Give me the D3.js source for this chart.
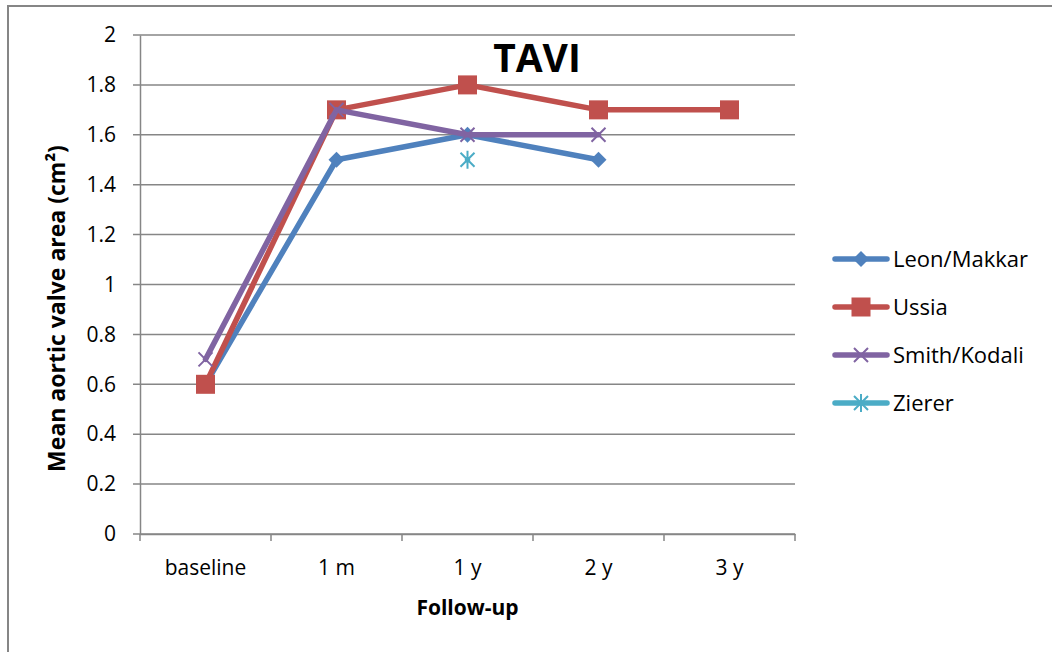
<!DOCTYPE html>
<html>
<head>
<meta charset="utf-8">
<script src="https://cdn.jsdelivr.net/npm/d3@7/dist/d3.min.js"></script>
<style>
  html, body { margin: 0; padding: 0; background: #fff; }
  svg { display: block; }
  text { font-family: "Open Sans", Lato, "DejaVu Sans", sans-serif; fill: #000; }
</style>
</head>
<body>
<svg id="chart" width="1052" height="652"></svg>
<script>
// Follow-up time points
const categories = ["baseline", "1 m", "1 y", "2 y", "3 y"];
// Mean aortic valve area (cm²) per study; null = not reported
const leonMakkar  = [0.6, 1.5, 1.6, 1.5, null];
const ussia       = [0.6, 1.7, 1.8, 1.7, 1.7];
const smithKodali = [0.7, 1.7, 1.6, 1.6, null];
const zierer      = [null, null, 1.5, null, null];
const seriesNames = ["Leon/Makkar", "Ussia", "Smith/Kodali", "Zierer"];
const yTicks = [0, 0.2, 0.4, 0.6, 0.8, 1, 1.2, 1.4, 1.6, 1.8, 2];

const series = [
  { name: seriesNames[0], values: leonMakkar,  color: "#4F81BD", marker: "diamond" },
  { name: seriesNames[1], values: ussia,       color: "#C0504D", marker: "square" },
  { name: seriesNames[2], values: smithKodali, color: "#8064A2", marker: "x" },
  { name: seriesNames[3], values: zierer,      color: "#4BACC6", marker: "star" }
];

const svg = d3.select("#chart");
const plot = { left: 140, right: 795, top: 35, bottom: 534 };
const FONT = "\"Open Sans\", Lato, sans-serif";

// chart area frame
svg.append("rect")
  .attr("x", 8).attr("y", 6).attr("width", 1060).attr("height", 660)
  .attr("fill", "none").attr("stroke", "#868686").attr("stroke-width", 2);

const x = d3.scaleBand().domain(categories).range([plot.left, plot.right]);
const y = d3.scaleLinear().domain([0, 2]).range([plot.bottom, plot.top]);

// horizontal gridlines
svg.append("g").selectAll("line").data(yTicks).join("line")
  .attr("x1", plot.left - 7).attr("x2", plot.right)
  .attr("y1", d => y(d)).attr("y2", d => y(d))
  .attr("stroke", "#868686").attr("stroke-width", 1.5);

// y axis
const yAxis = svg.append("g")
  .attr("transform", `translate(${plot.left},0)`)
  .call(d3.axisLeft(y).tickValues(yTicks).tickSize(0).tickPadding(24)
    .tickFormat(d => String(d)));
yAxis.select(".domain").attr("stroke", "#868686").attr("stroke-width", 1.5);
yAxis.selectAll("text").style("font-size", "21px").style("font-family", FONT);

// x axis
const xAxis = svg.append("g")
  .attr("transform", `translate(0,${plot.bottom})`)
  .call(d3.axisBottom(x).tickSize(0).tickPadding(26));
xAxis.select(".domain").attr("stroke", "#868686").attr("stroke-width", 1.5);
xAxis.selectAll("text").style("font-size", "21px").style("font-family", FONT);
// tick marks at category boundaries
const bounds = categories.map(c => x(c)).concat([x(categories[categories.length - 1]) + x.bandwidth()]);
xAxis.append("g").selectAll("line").data(bounds).join("line")
  .attr("x1", d => d).attr("x2", d => d).attr("y1", 0).attr("y2", 7)
  .attr("stroke", "#868686").attr("stroke-width", 1.5);

// axis titles
svg.append("text")
  .attr("transform", `translate(65,${(plot.top + plot.bottom) / 2 + 24}) rotate(-90)`)
  .attr("text-anchor", "middle")
  .style("font-size", "23px").style("font-weight", "bold")
  .text("Mean aortic valve area (cm²)");
svg.append("text")
  .attr("x", (plot.left + plot.right) / 2).attr("y", 615)
  .attr("text-anchor", "middle")
  .style("font-size", "21px").style("font-weight", "bold")
  .text("Follow-up");

// chart title
svg.append("text")
  .attr("x", 537).attr("y", 72)
  .attr("text-anchor", "middle")
  .style("font-size", "39px").style("font-weight", "bold")
  .text("TAVI");

// marker drawing
function drawMarker(g, type, color, cx, cy) {
  if (type === "diamond") {
    g.append("path")
      .attr("d", `M${cx},${cy - 8}L${cx + 8},${cy}L${cx},${cy + 8}L${cx - 8},${cy}Z`)
      .attr("fill", color);
  } else if (type === "square") {
    g.append("rect")
      .attr("x", cx - 9.5).attr("y", cy - 9.5).attr("width", 19).attr("height", 19)
      .attr("fill", color);
  } else if (type === "x") {
    g.append("path")
      .attr("d", `M${cx - 7},${cy - 7}L${cx + 7},${cy + 7}M${cx - 7},${cy + 7}L${cx + 7},${cy - 7}`)
      .attr("stroke", color).attr("stroke-width", 2).attr("fill", "none");
  } else if (type === "star") {
    g.append("path")
      .attr("d", `M${cx - 7},${cy - 7}L${cx + 7},${cy + 7}M${cx - 7},${cy + 7}L${cx + 7},${cy - 7}M${cx},${cy - 9}L${cx},${cy + 9}`)
      .attr("stroke", color).attr("stroke-width", 2).attr("fill", "none");
  }
}

const cx = c => x(c) + x.bandwidth() / 2;
const line = d3.line()
  .defined(d => d.v !== null)
  .x(d => cx(d.c)).y(d => y(d.v));

series.forEach(s => {
  const pts = categories.map((c, i) => ({ c, v: s.values[i] }));
  const g = svg.append("g");
  g.append("path").datum(pts)
    .attr("d", line)
    .attr("fill", "none").attr("stroke", s.color)
    .attr("stroke-width", 5.5).attr("stroke-linejoin", "round").attr("stroke-linecap", "round");
  pts.filter(p => p.v !== null).forEach(p => drawMarker(g, s.marker, s.color, cx(p.c), y(p.v)));
});

// legend
const legendY = [259, 307, 355, 403];
series.forEach((s, i) => {
  const g = svg.append("g");
  const ly = legendY[i];
  g.append("line").attr("x1", 835).attr("x2", 887).attr("y1", ly).attr("y2", ly)
    .attr("stroke", s.color).attr("stroke-width", 5.5).attr("stroke-linecap", "round");
  drawMarker(g, s.marker, s.color, 861, ly);
  g.append("text").attr("x", 893).attr("y", ly + 8)
    .style("font-size", "22px")
    .text(s.name);
});
</script>
</body>
</html>
